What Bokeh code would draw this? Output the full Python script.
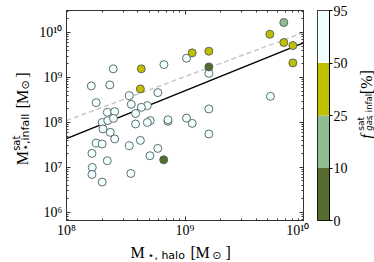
import numpy as np
from bokeh.plotting import figure
from bokeh.models import Range1d, FixedTicker, LogAxis, ColumnDataSource
from bokeh.layouts import row, column
from bokeh.embed import file_html
from bokeh.resources import INLINE
from bokeh.core.properties import value

# ---------------- data ----------------
m_halo = [2.48e8, 6.64e8, 1.03e9, 1.62e8, 2.32e8, 5.90e8, 3.39e8, 1.78e8, 3.52e8, 4.28e8,
          4.81e8, 2.21e8, 2.55e8, 3.83e8, 1.03e9, 2.00e8, 2.23e8, 2.49e8, 3.83e8, 4.81e8,
          5.09e8, 7.18e8, 7.18e8, 2.03e8, 2.34e8, 2.55e8, 1.78e8, 2.00e8, 3.39e8, 4.20e8,
          5.90e8, 1.64e8, 5.06e8, 2.21e8, 1.65e8, 1.64e8, 3.49e8, 2.00e8, 1.59e9, 5.26e9,
          1.59e9, 1.15e9, 1.59e9,
          4.28e8, 4.20e8, 1.15e9, 1.59e9, 5.20e9, 6.82e9, 8.13e9, 8.13e9,
          6.82e9,
          1.59e9, 6.61e8]
m_infall = [1.56e9, 1.94e9, 2.68e9, 6.50e8, 6.84e8, 4.61e8, 3.95e8, 2.76e8, 2.53e8, 2.17e8,
            2.37e8, 1.68e8, 1.74e8, 1.58e8, 1.25e8, 1.00e8, 1.10e8, 1.23e8, 9.27e7, 1.00e8,
            1.10e8, 1.15e8, 1.06e8, 7.16e7, 6.03e7, 4.30e7, 3.49e7, 3.32e7, 3.04e7, 3.99e7,
            2.65e7, 2.05e7, 1.82e7, 1.41e7, 1.00e7, 6.98e6, 7.35e6, 4.73e6, 1.24e9, 3.81e8,
            2.00e8, 9.55e7, 5.55e7,
            1.56e9, 5.57e8, 3.53e9, 3.84e9, 9.16e9, 5.98e9, 5.13e9, 2.11e9,
            1.67e10,
            1.72e9, 1.48e7]
f_gas = [72, 80, 65, 88, 77, 69, 91, 84, 75, 62,
         70, 86, 79, 73, 58, 90, 82, 67, 60, 71,
         76, 64, 85, 89, 93, 81, 87, 78, 68, 74,
         63, 92, 57, 83, 94, 88, 66, 90, 55, 61,
         70, 59, 75,
         38, 30, 42, 35, 45, 33, 28, 40,
         18,
         6, 4]

cbar_bounds = [0, 10, 25, 50, 95]
cbar_labels = ["0", "10", "25", "50", "95"]
cbar_colors = ["#556b2f", "#8fbc8f", "#bfbf00", "#f0ffff"]

fit_x = [1e8, 1e10]
fit_y = [4.37e7, 5.89e9]
one_x = [1e8, 1e10]
one_y = [1.1e8, 1.0e10]

x_ticks = [1e8, 1e9, 1e10]
x_tick_labels = ["10\u2078", "10\u2079", "10\u00b9\u2070"]
y_ticks = [1e6, 1e7, 1e8, 1e9, 1e10]
y_tick_labels = ["10\u2076", "10\u2077", "10\u2078", "10\u2079", "10\u00b9\u2070"]

# ---------------- derived table ----------------
bins = np.digitize(f_gas, cbar_bounds[1:-1])
colors = [cbar_colors[b] for b in bins]
order = np.argsort(-np.array(f_gas), kind="stable")
src = ColumnDataSource(dict(
    x=[m_halo[i] for i in order],
    y=[m_infall[i] for i in order],
    c=[colors[i] for i in order],
))

SERIF = "Liberation Serif"
SANS = "DejaVu Sans"
AX = "#333333"
H1 = 239          # height of the top row
FH = 210          # frame height
R = np.pi / 2
YLW = 36          # width of the y-label panel

x_minor = [k * 10.0 ** n for n in (8, 9) for k in range(2, 10)]
y_minor = [k * 10.0 ** n for n in (5, 6, 7, 8, 9, 10) for k in range(2, 10)]

# ---------------- main plot ----------------
p = figure(width=62 - YLW + 237 + 6, height=H1, frame_width=237, frame_height=FH,
           x_axis_type="log", y_axis_type="log",
           x_range=Range1d(1e8, 1e10), y_range=Range1d(10 ** 5.82, 10 ** 10.49),
           output_backend="svg", toolbar_location=None,
           min_border_left=62 - YLW, min_border_right=6, min_border_top=10,
           min_border_bottom=H1 - 10 - FH)
p.xgrid.visible = False
p.ygrid.visible = False
p.outline_line_color = AX


def style_axis(ax, ticks, minor, labels=None):
    ax.ticker = FixedTicker(ticks=ticks, minor_ticks=minor)
    ax.major_tick_in = 4
    ax.major_tick_out = 0
    ax.minor_tick_in = 2
    ax.minor_tick_out = 0
    ax.axis_line_color = AX
    ax.major_tick_line_color = AX
    ax.minor_tick_line_color = AX
    if labels is None:
        ax.major_label_overrides = {t: " " for t in ticks}
        ax.major_label_text_font_size = "1px"
        ax.major_label_text_alpha = 0
        ax.major_label_standoff = 0
    else:
        ax.major_label_overrides = dict(zip(ticks, labels))
        ax.major_label_text_font = SERIF
        ax.major_label_text_font_size = "14px"
        ax.major_label_text_color = "black"


style_axis(p.xaxis[0], x_ticks, x_minor, x_tick_labels)
p.xaxis[0].major_label_standoff = 2
style_axis(p.yaxis[0], y_ticks, y_minor, y_tick_labels)
p.yaxis[0].major_label_standoff = 4

top = LogAxis()
style_axis(top, x_ticks, x_minor)
p.add_layout(top, "above")
right = LogAxis()
style_axis(right, y_ticks, y_minor)
p.add_layout(right, "right")

p.line(one_x, one_y, line_color="#c8c8c8", line_dash="5 3", line_width=1.5)
p.line(fit_x, fit_y, line_color="black", line_width=1.5)
p.scatter("x", "y", source=src, size=8, fill_color="c", line_color="#4f5c5c", line_width=0.9)


# ---------------- text panels ----------------
def text_fig(w, h):
    f = figure(width=w, height=h, x_range=Range1d(0, w), y_range=Range1d(0, h),
               x_axis_location=None, y_axis_location=None, output_backend="svg",
               toolbar_location=None, min_border=0)
    f.outline_line_color = None
    f.xgrid.visible = False
    f.ygrid.visible = False
    return f


def put(f, x, y, text, size, font=SERIF, style="normal", angle=0.0):
    f.text(x=[x], y=[y], text=[text], angle=angle, text_font=value(font),
           text_font_size=value(f"{size}px"), text_font_style=value(style),
           text_align="left", text_baseline="alphabetic", text_color="black")


# y-axis label: M^sat_{*,infall} [M_sun]
yl = text_fig(YLW, H1)
s0 = H1 - 177
put(yl, 22, s0 + 0, "M", 16, angle=R)
put(yl, 16, s0 + 16.5, "sat", 10, SANS, angle=R)
put(yl, 25, s0 + 16.5, "\u22c6,infall", 11, SANS, angle=R)
put(yl, 22, s0 + 65, "[", 16, angle=R)
put(yl, 22, s0 + 70, "M", 16, angle=R)
put(yl, 25, s0 + 86.7, "\u2299", 11, SANS, angle=R)
put(yl, 22, s0 + 100, "]", 16, angle=R)

# x-axis label: M_{*,halo} [M_sun]
XH = 21
xl = text_fig(372, XH)
put(xl, 130, 9, "M", 16)
put(xl, 147, 6, "\u22c6, halo", 11, SANS)
put(xl, 190, 9, "[", 16)
put(xl, 195, 9, "M", 16)
put(xl, 211.7, 6, "\u2299", 11, SANS)
put(xl, 225, 9, "]", 16)

# ---------------- colour bar ----------------
cb = figure(width=42, height=H1, frame_width=12, frame_height=FH, x_range=Range1d(0, 1),
            y_range=Range1d(0, len(cbar_colors)),
            x_axis_location=None, y_axis_location="right",
            output_backend="svg", toolbar_location=None,
            min_border_left=8, min_border_right=22, min_border_top=10,
            min_border_bottom=H1 - 10 - FH)
cb.xgrid.visible = False
cb.ygrid.visible = False
cb.outline_line_color = "black"
idx = list(range(len(cbar_colors)))
cb.quad(left=0, right=1, bottom=idx, top=[i + 1 for i in idx], fill_color=cbar_colors,
        line_color=None)
ya = cb.yaxis[0]
ya.ticker = FixedTicker(ticks=list(range(len(cbar_bounds))), minor_ticks=[])
ya.major_label_overrides = {i: t for i, t in enumerate(cbar_labels)}
ya.major_tick_in = 0
ya.major_tick_out = 3
ya.major_label_standoff = 1
ya.axis_line_color = "black"
ya.major_tick_line_color = "black"
ya.major_label_text_font = SERIF
ya.major_label_text_font_size = "14px"
ya.major_label_text_color = "black"

# colour bar title: f^sat_{gas,infall} [%]
ct = text_fig(25, H1)
c0 = H1 - 146.7
put(ct, 15, c0, "f", 16, SERIF, "italic", angle=R)
put(ct, 9, c0 + 9.2, "sat", 9, SANS, angle=R)
put(ct, 17, c0 + 9.2, "gas", 8.5, SANS, "italic", angle=R)
put(ct, 17, c0 + 24.2, ", infall", 8.5, SANS, angle=R)
put(ct, 15, c0 + 51, "[%]", 16, SERIF, angle=R)

layout = column(row(yl, p, cb, ct), xl)
open("out.html", "w").write(file_html(layout, INLINE))
